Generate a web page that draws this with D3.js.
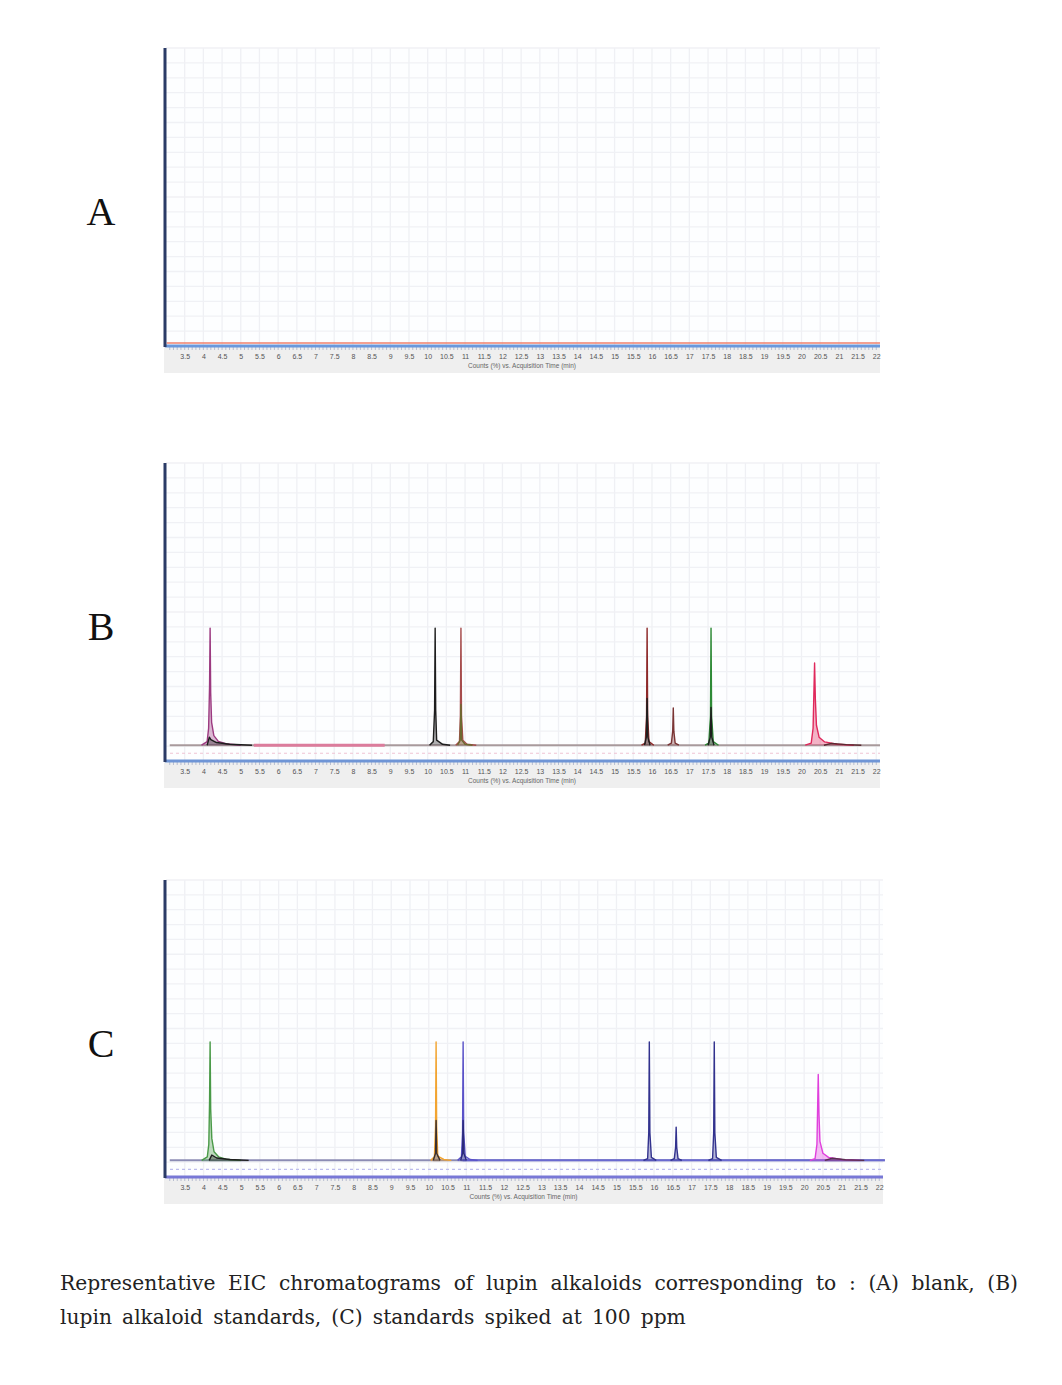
<!DOCTYPE html>
<html>
<head>
<meta charset="utf-8">
<script src="https://cdn.jsdelivr.net/npm/d3@7"></script>
<style>
  body { margin: 0; background: #fff; }
  svg { display: block; }
</style>
</head>
<body>
<svg id="fig" width="1062" height="1385"></svg>
<script>
// tick labels on the time axis (min)
var tickLabels = ['3.5','4','4.5','5','5.5','6','6.5','7','7.5','8','8.5','9','9.5','10','10.5','11','11.5','12',
  '12.5','13','13.5','14','14.5','15','15.5','16','16.5','17','17.5','18','18.5','19','19.5','20','20.5','21','21.5','22'];
var axisTitle = 'Counts (%) vs. Acquisition Time (min)';
var panelNames = ['A', 'B', 'C'];

// baselines [time, counts%]
var baseA = [
  {color: '#f0806c', width: 1.5, pts: [[3.02, -4], [22.1, -4]]}
];
var baseB = [
  {color: '#a89a9c', width: 2, pts: [[3.1, 0.3], [22.1, 0.3]]},
  {color: '#dc7c9c', width: 3, pts: [[5.35, 0.3], [8.85, 0.3]]}
];
var baseC = [
  {color: '#8c8cb4', width: 2, pts: [[3.1, 0.6], [22.15, 0.6]]},
  {color: '#6a6ad0', width: 2, pts: [[10.9, 0.6], [22.15, 0.6]]}
];

// peaks of panel B (lupin alkaloid standards)
var peaksB = [
  {color: '#9c3a80', pts: [[3.95,0.3],[4.1,1.5],[4.14,6],[4.165,20],[4.18,39.6],[4.195,18],[4.22,8],[4.28,3.5],[4.4,1.6],[4.6,0.8],[5.0,0.3]]},
  {color: '#1e1e1e', pts: [[4.1,0.3],[4.16,3],[4.2,2.2],[4.35,1.2],[4.7,0.6],[5.3,0.3]]},
  {color: '#1e1e1e', pts: [[10.05,0.3],[10.15,1.5],[10.185,12],[10.2,39.6],[10.215,12],[10.24,2],[10.4,0.6],[10.6,0.3]]},
  {color: '#a64c4c', pts: [[10.75,0.3],[10.85,1.5],[10.875,10],[10.89,39.6],[10.905,10],[10.94,2],[11.05,0.6],[11.3,0.3]]},
  {color: '#6c6a30', pts: [[10.8,0.3],[10.87,2],[10.89,14],[10.91,2],[11.0,0.6],[11.2,0.3]]},
  {color: '#8e2a2a', pts: [[15.72,0.3],[15.82,1],[15.855,10],[15.87,39.6],[15.885,10],[15.92,1.5],[16.05,0.3]]},
  {color: '#1e1e1e', pts: [[15.8,0.3],[15.85,3],[15.87,16],[15.89,3],[15.95,0.3]]},
  {color: '#7a3434', pts: [[16.42,0.3],[16.52,1],[16.555,5],[16.57,12.8],[16.585,5],[16.62,1],[16.72,0.3]]},
  {color: '#2e8a36', pts: [[17.42,0.3],[17.52,1],[17.565,10],[17.58,39.6],[17.595,10],[17.64,1.5],[17.78,0.3]]},
  {color: '#1e1e1e', pts: [[17.5,0.3],[17.56,3],[17.58,13],[17.6,3],[17.66,0.3]]},
  {color: '#e0285c', pts: [[20.1,0.3],[20.26,1],[20.31,6],[20.35,27.9],[20.37,16],[20.4,7],[20.47,3],[20.62,1.4],[20.95,0.6],[21.4,0.3]]},
  {color: '#5a2a30', pts: [[20.6,0.3],[20.8,0.9],[21.2,0.5],[21.6,0.3]]}
];

// peaks of panel C (standards spiked at 100 ppm)
var peaksC = [
  {color: '#4a9a48', pts: [[3.95,0.6],[4.1,1.8],[4.14,6],[4.16,20],[4.175,40.5],[4.19,18],[4.22,8],[4.28,3.5],[4.4,1.8],[4.6,1],[5.0,0.6]]},
  {color: '#1e1e1e', pts: [[4.15,0.6],[4.22,2.4],[4.35,1.4],[4.7,0.9],[5.2,0.6]]},
  {color: '#f2a430', pts: [[10.05,0.6],[10.15,1.8],[10.18,12],[10.195,40.5],[10.21,12],[10.24,2],[10.4,0.9],[10.6,0.6]]},
  {color: '#3a3030', pts: [[10.12,0.6],[10.18,3],[10.195,14],[10.21,3],[10.3,0.6]]},
  {color: '#5a52c8', pts: [[10.77,0.6],[10.87,1.8],[10.9,10],[10.915,40.5],[10.93,10],[10.97,2],[11.1,0.9],[11.3,0.6]]},
  {color: '#2a2a7a', pts: [[10.85,0.6],[10.9,3],[10.915,14],[10.935,3],[11.0,0.6]]},
  {color: '#32328e', pts: [[15.72,0.6],[15.83,1.2],[15.86,10],[15.875,40.5],[15.89,10],[15.93,1.6],[16.06,0.6]]},
  {color: '#32328e', pts: [[16.44,0.6],[16.54,1.2],[16.575,5],[16.59,11.8],[16.605,5],[16.64,1.2],[16.74,0.6]]},
  {color: '#32328e', pts: [[17.45,0.6],[17.56,1.2],[17.59,10],[17.605,40.5],[17.62,10],[17.66,1.6],[17.8,0.6]]},
  {color: '#e040dc', pts: [[20.15,0.6],[20.29,1.2],[20.34,6],[20.375,29.5],[20.395,16],[20.42,7],[20.5,3],[20.65,1.6],[21.0,0.9],[21.5,0.6]]},
  {color: '#5a3050', pts: [[20.55,0.6],[20.75,1.3],[21.1,0.8],[21.6,0.6]]}
];

var panels = [
  {name: 'A', top: 48, bottom: 346, right: 880, axisColor: '#6a98dc', dash: null, base: baseA, peaks: []},
  {name: 'B', top: 463, bottom: 761, right: 880, axisColor: '#6f95d6', dash: '#f0c4d4', base: baseB, peaks: peaksB},
  {name: 'C', top: 880, bottom: 1177, right: 883, axisColor: '#7878d6', dash: '#bcbcec', base: baseC, peaks: peaksC}
];

var svg = d3.select('#fig');
var left = 166;

panels.forEach(function(p, i){
  var x = d3.scaleLinear().domain([3, 22.1]).range([left, p.right]);
  var y = d3.scaleLinear().domain([-5, 95]).range([p.bottom, p.top]);
  var g = svg.append('g').attr('class', 'panel');

  // plot background
  g.append('rect')
    .attr('x', left).attr('y', p.top)
    .attr('width', p.right - left).attr('height', p.bottom - p.top)
    .attr('fill', '#fdfeff');

  // grid
  g.append('g').selectAll('line.v')
    .data(d3.range(3.5, 22.01, 0.5))
    .enter().append('line')
    .attr('x1', function(d){ return x(d); }).attr('x2', function(d){ return x(d); })
    .attr('y1', p.top).attr('y2', p.bottom)
    .attr('stroke', '#eff0f4').attr('stroke-width', 1.3);
  g.append('g').selectAll('line.h')
    .data(d3.range(0, 95.1, 5))
    .enter().append('line')
    .attr('x1', left).attr('x2', p.right)
    .attr('y1', function(d){ return y(d); }).attr('y2', function(d){ return y(d); })
    .attr('stroke', '#f0f1f5').attr('stroke-width', 1.3);

  // faint dashed trace below the baseline
  if(p.dash){
    g.append('line')
      .attr('x1', left + 4).attr('x2', p.right)
      .attr('y1', y(-2.4)).attr('y2', y(-2.4))
      .attr('stroke', p.dash).attr('stroke-width', 1.2)
      .attr('stroke-dasharray', '3,3');
  }

  var line = d3.line()
    .x(function(d){ return x(d[0]); })
    .y(function(d){ return y(d[1]); });
  var area = d3.area()
    .x(function(d){ return x(d[0]); })
    .y0(y(0.3))
    .y1(function(d){ return y(d[1]); });

  p.base.forEach(function(b){
    g.append('path').attr('d', line(b.pts))
      .attr('fill', 'none').attr('stroke', b.color).attr('stroke-width', b.width);
  });

  p.peaks.forEach(function(pk){
    g.append('path').attr('d', area(pk.pts))
      .attr('fill', pk.color).attr('fill-opacity', 0.35);
    g.append('path').attr('d', line(pk.pts))
      .attr('fill', 'none').attr('stroke', pk.color)
      .attr('stroke-width', 1.4).attr('stroke-linejoin', 'round');
  });

  // axis band under the plot
  g.append('rect')
    .attr('x', left - 2).attr('y', p.bottom)
    .attr('width', p.right - left + 2).attr('height', 27)
    .attr('fill', '#efefef');

  // minor ticks
  g.append('g').selectAll('line')
    .data(d3.range(3.1, 22.05, 0.1))
    .enter().append('line')
    .attr('x1', function(d){ return x(d); }).attr('x2', function(d){ return x(d); })
    .attr('y1', p.bottom + 1).attr('y2', p.bottom + 4)
    .attr('stroke', '#a8b0c8').attr('stroke-width', 0.8);

  // time axis
  var axis = d3.axisBottom(x)
    .tickValues(tickLabels.map(Number))
    .tickFormat(function(d, j){ return tickLabels[j]; })
    .tickSize(0).tickPadding(8);
  var ax = g.append('g').attr('transform', 'translate(0,' + p.bottom + ')').call(axis);
  ax.select('.domain').remove();
  ax.selectAll('text')
    .attr('font-family', 'Liberation Sans, Arial, sans-serif')
    .attr('font-size', 7).attr('fill', '#555');

  g.append('line')
    .attr('x1', left - 1).attr('x2', p.right)
    .attr('y1', p.bottom).attr('y2', p.bottom)
    .attr('stroke', p.axisColor).attr('stroke-width', 3);

  g.append('text')
    .attr('x', (left + p.right) / 2 - 1).attr('y', p.bottom + 22)
    .attr('text-anchor', 'middle')
    .attr('font-family', 'Liberation Sans, Arial, sans-serif')
    .attr('font-size', 6.5).attr('fill', '#666')
    .text(axisTitle);

  // counts axis
  g.append('line')
    .attr('x1', left - 1).attr('x2', left - 1)
    .attr('y1', p.top).attr('y2', p.bottom + 1)
    .attr('stroke', '#2b3b66').attr('stroke-width', 3);

  // panel letter
  svg.append('text')
    .attr('x', 101).attr('y', (p.top + p.bottom) / 2 + 28)
    .attr('text-anchor', 'middle')
    .attr('font-family', 'Liberation Serif, DejaVu Serif, serif')
    .attr('font-size', 40).attr('fill', '#111')
    .text(panelNames[i]);
});

// caption: first line justified, second line sized to its width in the reference
var captionLines = [
  'Representative EIC chromatograms of lupin alkaloids corresponding to : (A) blank, (B)',
  'lupin alkaloid standards, (C) standards spiked at 100 ppm'
];
var capFont = 'DejaVu Serif, Liberation Serif, serif';
var capLeft = 60, capRight = 1018, line2Right = 686;
var capY = [1290, 1324];

function placeLine(txt, yPos, size, right, gapFixed){
  var words = txt.split(' ');
  var nodes = words.map(function(w){
    return svg.append('text')
      .attr('y', yPos)
      .attr('font-family', capFont).attr('font-size', size)
      .attr('fill', '#222').text(w);
  });
  var widths = nodes.map(function(n){ return n.node().getComputedTextLength(); });
  var total = d3.sum(widths);
  var gap = gapFixed != null ? gapFixed : (right - capLeft - total) / (words.length - 1);
  var cx = capLeft;
  nodes.forEach(function(n, k){
    n.attr('x', cx);
    cx += widths[k] + gap;
  });
  return {nodes: nodes, total: total};
}

// measure line 2 at a trial size, then pick the size that fills its width
var trialSize = 20;
var trial = placeLine(captionLines[1], capY[1], trialSize, line2Right, trialSize * 0.5);
trial.nodes.forEach(function(n){ n.remove(); });
var nGaps = captionLines[1].split(' ').length - 1;
var capSize = trialSize * (line2Right - capLeft) / (trial.total + nGaps * trialSize * 0.5);

placeLine(captionLines[0], capY[0], capSize, capRight, null);
placeLine(captionLines[1], capY[1], capSize, line2Right, capSize * 0.5);
</script>
</body>
</html>
